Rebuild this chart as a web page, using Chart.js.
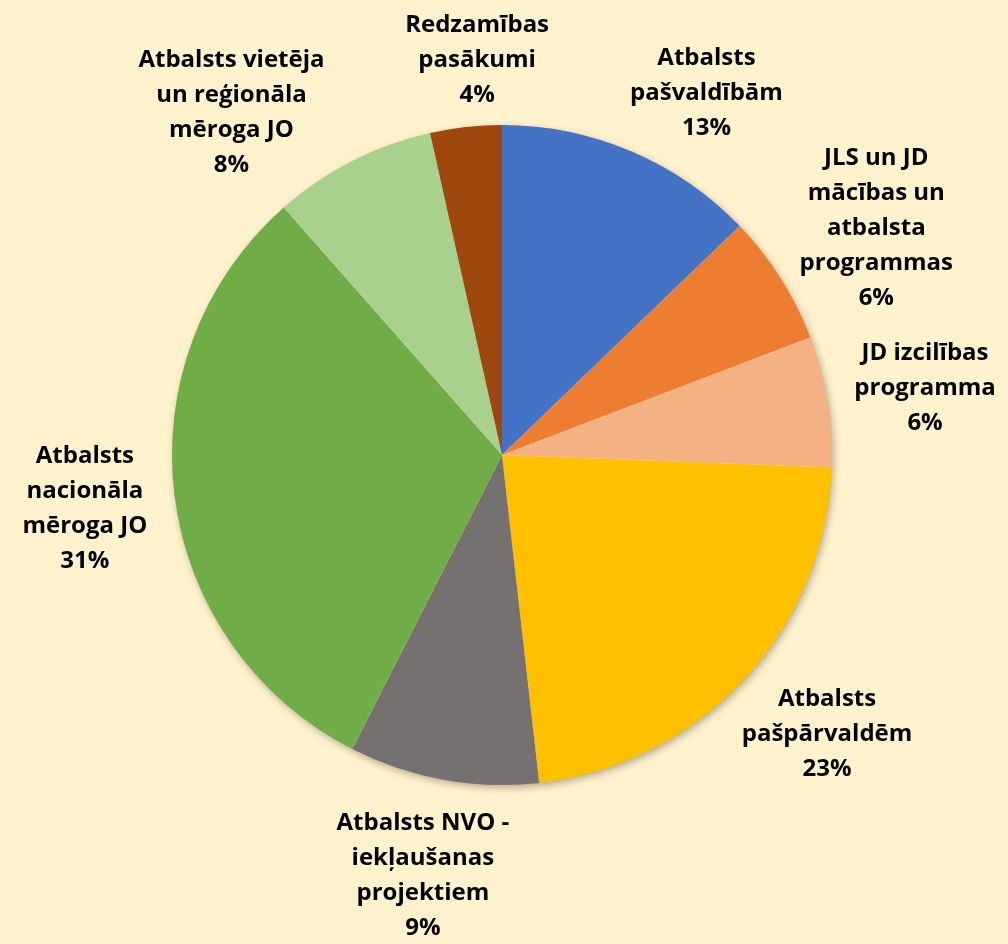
<!DOCTYPE html>
<html>
<head>
<meta charset="utf-8">
<script src="https://cdn.jsdelivr.net/npm/chart.js@4"></script>
<style>
  html, body { margin: 0; padding: 0; background: #FFF2CC; }
  #wrap { width: 1008px; height: 944px; position: relative; }
</style>
</head>
<body>
<div id="wrap"><canvas id="pie"></canvas></div>
<script>
// Slice names, split the way the reference wraps them
const categories = [
    ["Atbalsts", "pašvaldībām"],
    ["JLS un JD", "mācības un", "atbalsta", "programmas"],
    ["JD izcilības", "programma"],
    ["Atbalsts", "pašpārvaldēm"],
    ["Atbalsts NVO -", "iekļaušanas", "projektiem"],
    ["Atbalsts", "nacionāla", "mēroga JO"],
    ["Atbalsts vietēja", "un reģionāla", "mēroga JO"],
    ["Redzamības", "pasākumi"],
];
// Shares (percent)
const shares = [12.8, 6.4, 6.4, 22.6, 9.3, 31.0, 8.0, 3.5];
const sliceColors = ["#4472C4", "#ED7D31", "#F4B183", "#FFC000", "#767171", "#70AD47", "#A9D18E", "#9E480E"];

const LABEL_FONT = "bold 24px 'Open Sans'";
const LINE_H = 35;

// Soft drop shadow behind the whole pie
const pieShadow = {
    id: "pieShadow",
    beforeDatasetsDraw(chart) {
        const arc = chart.getDatasetMeta(0).data[0];
        if (!arc) return;
        const ctx = chart.ctx;
        ctx.save();
        ctx.shadowColor = "rgba(0,0,0,0.35)";
        ctx.shadowBlur = 8;
        ctx.shadowOffsetX = 2;
        ctx.shadowOffsetY = 3;
        ctx.fillStyle = "#FFF2CC";
        ctx.beginPath();
        ctx.arc(arc.x, arc.y, arc.outerRadius - 1, 0, Math.PI * 2);
        ctx.fill();
        ctx.restore();
    },
};

// Outside labels: name lines plus rounded percent, pushed out along the slice's mid angle.
// Neighbouring labels that crowd each other are rotated apart a little at a time (like Excel's best fit).
const outsideLabels = {
    id: "outsideLabels",
    afterDatasetsDraw(chart) {
        const ctx = chart.ctx;
        const arcs = chart.getDatasetMeta(0).data;
        const total = shares.reduce((a, b) => a + b, 0);
        const W = chart.width, H = chart.height;
        ctx.save();
        ctx.font = LABEL_FONT;

        const boxes = arcs.map((arc, i) => {
            const lines = categories[i].concat([Math.round(shares[i] / total * 100) + "%"]);
            return {
                lines,
                w: Math.max(...lines.map(s => ctx.measureText(s).width)),
                h: lines.length * LINE_H,
                ang: (arc.startAngle + arc.endAngle) / 2,
            };
        });
        const place = (b, arc) => {
            const dx = Math.cos(b.ang), dy = Math.sin(b.ang);
            const r = arc.outerRadius + 28;
            b.cx = arc.x + dx * r + dx * b.w / 2;
            b.cy = arc.y + dy * r + dy * b.h / 2;
            // keep the whole block on the canvas
            b.cx = Math.min(Math.max(b.cx, b.w / 2 + 4), W - b.w / 2 - 4);
            b.cy = Math.min(Math.max(b.cy, b.h / 2 + 8), H - b.h / 2 + 4);
        };
        const hits = (a, b) =>
            Math.abs(a.cx - b.cx) < (a.w + b.w) / 2 + 80 &&
            Math.abs(a.cy - b.cy) < (a.h + b.h) / 2 - 6;

        boxes.forEach((b, i) => place(b, arcs[i]));
        for (let it = 0; it < 400; it++) {
            let moved = false;
            for (let i = 0; i < boxes.length; i++) {
                const j = (i + 1) % boxes.length;
                if (hits(boxes[i], boxes[j])) {
                    boxes[i].ang -= 0.004;
                    boxes[j].ang += 0.004;
                    place(boxes[i], arcs[i]);
                    place(boxes[j], arcs[j]);
                    moved = true;
                }
            }
            if (!moved) break;
        }

        ctx.fillStyle = "#000";
        ctx.textAlign = "center";
        ctx.textBaseline = "middle";
        boxes.forEach(b => {
            b.lines.forEach((s, k) => {
                ctx.fillText(s, b.cx, b.cy - b.h / 2 + LINE_H * (k + 0.5));
            });
        });
        ctx.restore();
    },
};

new Chart(document.getElementById("pie"), {
    type: "pie",
    data: {
        labels: categories,
        datasets: [{
            data: shares,
            backgroundColor: sliceColors,
            borderWidth: 0,
        }],
    },
    options: {
        responsive: true,
        maintainAspectRatio: false,
        animation: false,
        layout: { padding: { left: 172, right: 176, top: 125, bottom: 159 } },
        plugins: {
            legend: { display: false },
            tooltip: { enabled: false },
        },
    },
    plugins: [pieShadow, outsideLabels],
});
</script>
</body>
</html>
